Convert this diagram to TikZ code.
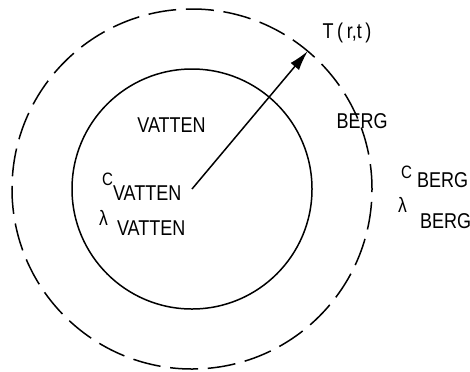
\documentclass[tikz,border=0pt]{standalone}
\usepackage{fontspec}
\setmainfont{Liberation Sans}[FakeStretch=0.84]
\usetikzlibrary{arrows.meta}
\begin{document}
\begin{tikzpicture}[x=1bp,y=-1bp,
  lbl/.style={inner sep=0pt, outer sep=0pt, font=\fontsize{21.5}{21.5}\selectfont},
  sml/.style={inner sep=0pt, outer sep=0pt, font=\fontsize{18}{18}\selectfont},
  lam/.style={inner sep=0pt, outer sep=0pt, font=\fontsize{21}{21}\selectfont},
  ring/.style={circle, draw, line width=1.5bp, inner sep=0pt, outer sep=0pt},
  dashring/.style={ring, dash pattern=on 28bp off 9.7bp, dash phase=3bp}]
\useasboundingbox (0,0) rectangle (470,371);
\coordinate (c) at (192,189);
\node[ring, minimum size=240bp] (inner) at (c) {};
\node[dashring, minimum size=360bp] (outer) at (c) {};
\draw[line width=1.5bp, -{Latex[length=20bp,width=11bp]}] (c) -- (outer.50.6);
\node[lbl, anchor=base] (vtop) at (171.5,132) {VATTEN};
\node[lbl, anchor=base] (T) at (347,38) {T\,(\,r,t\,)};
\node[lbl, anchor=base] (btop) at (362,128) {BERG};
\node[sml, anchor=base west] (cv) at (102,185) {C};
\node[lbl, anchor=base west] (cvs) at (113,200) {VATTEN};
\node[lam, anchor=base west] (lv) at (99,225) {λ};
\node[lbl, anchor=base west] (lvs) at (117,235) {VATTEN};
\node[sml, anchor=base west] (cb) at (401,178) {C};
\node[lbl, anchor=base west] (cbs) at (417,187) {BERG};
\node[lam, anchor=base west] (lb) at (398,212) {λ};
\node[lbl, anchor=base west] (lbs) at (420,228) {BERG};
\end{tikzpicture}
\end{document}
